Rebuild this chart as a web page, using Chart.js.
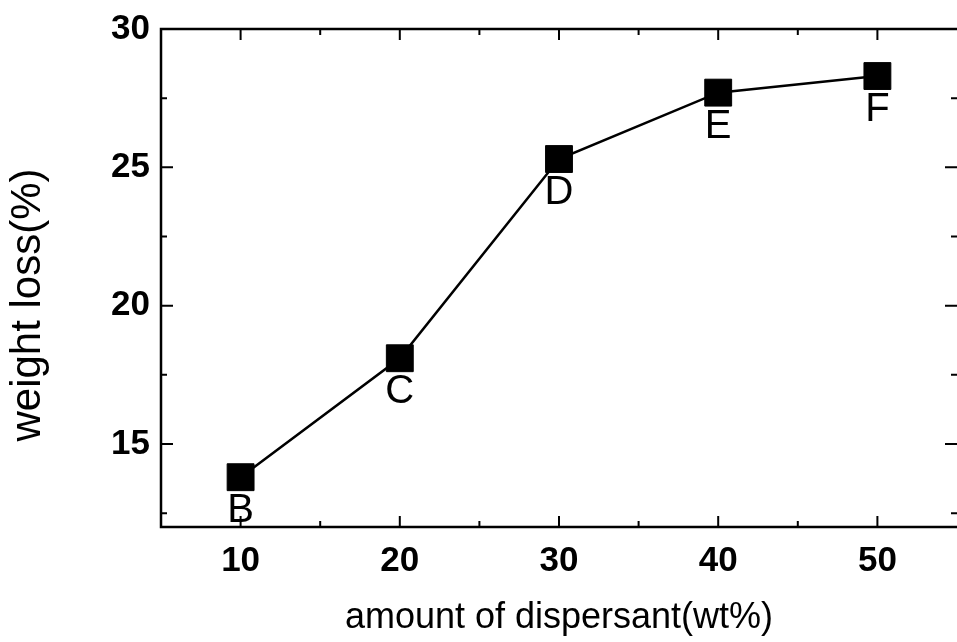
<!DOCTYPE html>
<html lang="en">
<head>
<meta charset="UTF-8">
<title>weight loss x amount of dispersant</title>
<!--Chart.js-->
<script src="https://cdn.jsdelivr.net/npm/chart.js"></script>
<style>
    body { margin: 0; background: #fff; }
    canvas { display: block; }
</style>
</head>
<body>

<canvas id="myChart" width="957" height="642"></canvas>

<script>
// dados
const dispersante = [10, 20, 30, 40, 50];
const perdaPeso = [13.8, 18.1, 25.3, 27.7, 28.3];
const amostras = ['B', 'C', 'D', 'E', 'F'];

// ticks dos eixos
const ticksX = [10, 20, 30, 40, 50];
const ticksY = [15, 20, 25, 30];
const menoresX = [15, 25, 35, 45];
const menoresY = [12.5, 17.5, 22.5, 27.5];

const fonte = '"Liberation Sans", Arial, sans-serif';

// moldura, ticks para dentro, letras das amostras e titulo do eixo y
const moldura = {
    id: 'moldura',
    afterDraw(chart) {
        const ctx = chart.ctx;
        const area = chart.chartArea;
        const sx = chart.scales.x;
        const sy = chart.scales.y;

        ctx.save();
        ctx.strokeStyle = '#000';
        ctx.lineWidth = 2.5;
        ctx.beginPath();
        ctx.moveTo(area.right + 2, area.top);
        ctx.lineTo(area.left, area.top);
        ctx.lineTo(area.left, area.bottom);
        ctx.lineTo(area.right + 2, area.bottom);
        ctx.stroke();

        ctx.lineWidth = 2;
        ctx.beginPath();
        ticksX.forEach(v => {
            const px = sx.getPixelForValue(v);
            ctx.moveTo(px, area.bottom); ctx.lineTo(px, area.bottom - 11);
            ctx.moveTo(px, area.top); ctx.lineTo(px, area.top + 11);
        });
        menoresX.forEach(v => {
            const px = sx.getPixelForValue(v);
            ctx.moveTo(px, area.bottom); ctx.lineTo(px, area.bottom - 6);
            ctx.moveTo(px, area.top); ctx.lineTo(px, area.top + 6);
        });
        ticksY.forEach(v => {
            const py = sy.getPixelForValue(v);
            ctx.moveTo(area.left, py); ctx.lineTo(area.left + 12, py);
            ctx.moveTo(area.right, py); ctx.lineTo(area.right - 12, py);
        });
        menoresY.forEach(v => {
            const py = sy.getPixelForValue(v);
            ctx.moveTo(area.left, py); ctx.lineTo(area.left + 6, py);
            ctx.moveTo(area.right, py); ctx.lineTo(area.right - 6, py);
        });
        ctx.stroke();

        // letras embaixo de cada ponto
        const pontos = chart.getDatasetMeta(0).data;
        ctx.fillStyle = '#000';
        ctx.font = '40px ' + fonte;
        ctx.textAlign = 'center';
        ctx.textBaseline = 'alphabetic';
        pontos.forEach((p, i) => {
            ctx.fillText(amostras[i], p.x, p.y + 45);
        });

        // titulo do eixo y
        ctx.translate(28, 305);
        ctx.rotate(-Math.PI / 2);
        ctx.font = '42px ' + fonte;
        ctx.textBaseline = 'middle';
        ctx.fillText('weight loss(%)', 0, 0);
        ctx.restore();
    }
};

const dados = {
    datasets: [{
        label: 'weight loss',
        data: dispersante.map((v, i) => ({ x: v, y: perdaPeso[i] })),
        borderColor: '#000',
        borderWidth: 2.5,
        backgroundColor: '#000',
        pointStyle: 'rect',
        pointRadius: 19,
        pointHoverRadius: 19,
        pointBackgroundColor: '#000',
        pointBorderColor: '#000',
        pointBorderWidth: 1,
        tension: 0
    }]
};

const config = {
    type: 'line',
    data: dados,
    options: {
        responsive: false,
        animation: false,
        devicePixelRatio: 1,
        layout: { autoPadding: false, padding: { top: 29, right: 0, left: 0, bottom: 0 } },
        plugins: {
            legend: { display: false },
            tooltip: { enabled: false }
        },
        scales: {
            x: {
                type: 'linear',
                min: 5,
                max: 55,
                afterBuildTicks: s => { s.ticks = ticksX.map(v => ({ value: v })); },
                afterFit: s => { s.height = 115; s.paddingLeft = 0; s.paddingRight = 0; },
                grid: { display: false, drawTicks: false },
                border: { display: false },
                ticks: {
                    color: '#000',
                    font: { family: fonte, size: 35, weight: 'bold' },
                    padding: 13,
                    maxRotation: 0,
                    autoSkip: false
                },
                title: {
                    display: true,
                    text: 'amount of dispersant(wt%)',
                    color: '#000',
                    font: { family: fonte, size: 36 },
                    padding: { top: 0, bottom: 2 }
                }
            },
            y: {
                min: 12,
                max: 30,
                afterBuildTicks: s => { s.ticks = ticksY.map(v => ({ value: v })); },
                afterFit: s => { s.width = 161; s.paddingTop = 0; s.paddingBottom = 0; },
                grid: { display: false, drawTicks: false },
                border: { display: false },
                ticks: {
                    color: '#000',
                    font: { family: fonte, size: 35, weight: 'bold' },
                    padding: 11
                }
            }
        }
    },
    plugins: [moldura]
};

let myChart = new Chart(document.getElementById('myChart'), config);
</script>
</body>
</html>
